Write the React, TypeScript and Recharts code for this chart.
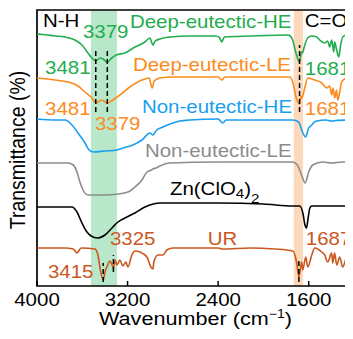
import React from 'react';
import { LineChart, Line, XAxis, YAxis, ReferenceArea, ReferenceLine, ReferenceDot } from 'recharts';

// FTIR spectra, stacked with vertical offsets: [wavenumber (cm-1), transmittance (offset, a.u.)]
const deepEutecticHE: [number, number][] = [
  [4000, 126], [3930, 125.6], [3841, 125], [3753, 124.5], [3665, 123], [3603, 120.5], [3550, 116.5],
  [3515, 114], [3481, 112.5], [3440, 114], [3420, 113.6], [3379, 112], [3340, 114], [3300, 115.5],
  [3224, 116.5], [3135, 119.5], [3047, 122], [3003, 124], [2985, 121.5], [2976, 120.5], [2955, 122.5],
  [2915, 123.5], [2826, 124.5], [2650, 125], [2420, 125], [2390, 124.3], [2368, 122], [2345, 124.5],
  [2120, 125], [1780, 125.5], [1745, 123.5], [1715, 117], [1681, 112], [1665, 117], [1655, 116.5],
  [1640, 119.5], [1609, 124], [1573, 125], [1529, 124.5], [1503, 123], [1459, 121.5], [1432, 122.5],
  [1415, 119.5], [1397, 123], [1379, 117], [1371, 122], [1353, 118], [1335, 114.5], [1318, 120.5],
  [1300, 124.5], [1238, 126], [1200, 126],
];

const deepEutecticLE: [number, number][] = [
  [4000, 104], [3841, 103], [3726, 102], [3638, 100], [3576, 97], [3515, 94], [3481, 91.5], [3430, 93],
  [3379, 91.5], [3330, 93], [3268, 95.5], [3180, 99.5], [3073, 103], [3010, 104], [2990, 100],
  [2982, 99], [2965, 102.5], [2915, 104], [2800, 104.5], [2400, 104.5], [2368, 103], [2340, 104.5],
  [2120, 104.5], [1768, 104.5], [1741, 102], [1715, 95], [1681, 91], [1668, 95], [1660, 94],
  [1635, 99], [1609, 104], [1547, 103], [1485, 101.5], [1441, 99], [1415, 100], [1397, 95.5],
  [1385, 99], [1370, 94], [1355, 98], [1344, 93], [1326, 97], [1309, 102], [1265, 104], [1200, 104.5],
];

const nonEutecticHE: [number, number][] = [
  [4000, 83.5], [3841, 83], [3753, 83], [3691, 80.5], [3638, 76.5], [3576, 71.5], [3540, 68],
  [3500, 67], [3400, 67.5], [3294, 68], [3240, 69], [3153, 70.5], [3073, 73], [3003, 76.5],
  [2976, 75.5], [2950, 77.5], [2888, 79.5], [2800, 81.5], [2738, 82.5], [2650, 83], [2400, 83.5],
  [2359, 81.5], [2330, 83], [2120, 83], [1741, 83], [1690, 82], [1655, 77], [1628, 74.5], [1600, 79],
  [1573, 80.5], [1560, 81.5], [1529, 82.5], [1450, 83], [1400, 82.5], [1350, 82.8], [1200, 83],
];

const nonEutecticLE: [number, number][] = [
  [4000, 61.5], [3726, 61.5], [3680, 60.5], [3647, 57], [3621, 52], [3594, 48], [3550, 45.5],
  [3400, 45.5], [3285, 46], [3197, 47], [3135, 49.5], [3073, 53], [3029, 57], [2990, 58],
  [2976, 58.5], [2950, 59], [2915, 60], [2826, 61.5], [2400, 62], [1741, 62], [1700, 60.5],
  [1660, 55], [1632, 51.5], [1600, 57], [1565, 60.5], [1476, 62], [1400, 61.5], [1300, 62], [1200, 62],
];

const znClO4: [number, number][] = [
  [4000, 39.5], [3691, 39.5], [3647, 37], [3603, 31.5], [3559, 27], [3506, 24.5], [3462, 24],
  [3400, 25.5], [3338, 29], [3285, 32], [3224, 34], [3135, 36.5], [3047, 39.5], [3003, 40.5],
  [2915, 41.5], [2400, 41.5], [2000, 41], [1741, 40], [1680, 40], [1650, 36], [1635, 31], [1620, 29],
  [1605, 34], [1590, 39], [1573, 40], [1200, 40],
];

const urea: [number, number][] = [
  [4000, 19], [3753, 19], [3680, 18.5], [3647, 16.5], [3610, 19], [3488, 18.5], [3462, 15.5],
  [3440, 8], [3415, 3], [3395, 8], [3382, 9.5], [3356, 12.5], [3340, 11], [3325, 9], [3310, 13],
  [3294, 10.5], [3268, 13], [3241, 10], [3215, 12], [3197, 9.5], [3162, 15.5], [3135, 17.5],
  [3091, 17], [3029, 14.5], [2994, 9.5], [2976, 8.5], [2968, 12], [2932, 15.5], [2888, 15.5],
  [2853, 18], [2800, 19], [2400, 19], [2360, 18.5], [2120, 19], [1900, 18.5], [1741, 17.5],
  [1706, 11.5], [1687, 4.5], [1662, 12], [1653, 8], [1626, 14.5], [1609, 9.5], [1573, 15.5],
  [1547, 19], [1485, 17], [1459, 15.5], [1432, 12], [1397, 16.5], [1388, 11.5], [1371, 16.5],
  [1353, 10.5], [1326, 14.5], [1300, 9.5], [1265, 14.5], [1238, 17], [1212, 19], [1200, 19],
];

// Assigned peak positions (cm-1)
const nhPeaksEutectic = [3481, 3379];
const coPeakEutectic = 1681;
const nhPeaksUrea = [3415, 3325];
const coPeakUrea = 1687;

// Highlighted bands (cm-1)
const nhBand = [3294, 3524];
const coBand = [1650, 1732];

const wavenumberTicks = [4000, 3200, 2400, 1600];
const xDomain = [1200, 4000];
const yDomain = [0, 138];

const GREEN = '#22ad4e';
const ORANGE = '#fb8b1d';
const BLUE = '#1a9ff0';
const GRAY = '#8c8c8c';
const BLACK = '#000000';
const BROWN = '#c9581f';

const FONT = "'Liberation Sans', Arial, Helvetica, sans-serif";
const SX = 1.17;
const FS = 17.5;

const toPoints = (arr: [number, number][]) => arr.map(([wn, t]) => ({ wn, t }));

const series = [
  { name: 'Deep-eutectic-HE', data: deepEutecticHE, color: GREEN },
  { name: 'Deep-eutectic-LE', data: deepEutecticLE, color: ORANGE },
  { name: 'Non-eutectic-HE', data: nonEutecticHE, color: BLUE },
  { name: 'Non-eutectic-LE', data: nonEutecticLE, color: GRAY },
  { name: 'Zn(ClO4)2', data: znClO4, color: BLACK },
  { name: 'UR', data: urea, color: BROWN },
];

function StretchText(props: { x: number; y: number; fill?: string; size?: number; anchor?: string; children: React.ReactNode }) {
  const { x, y, fill = BLACK, size = FS, anchor = 'start', children } = props;
  return (
    <text
      transform={`translate(${x},${y}) scale(${SX},1)`}
      x={0}
      y={0}
      fill={fill}
      fontSize={size}
      fontFamily={FONT}
      textAnchor={anchor as any}
    >
      {children}
    </text>
  );
}

// Text annotations placed in data coordinates (wavenumber, offset transmittance)
const annotations: { text: React.ReactNode; wn: number; t: number; color: string }[] = [
  { text: 'N-H', wn: 3947, t: 129.5, color: BLACK },
  { text: String(nhPeaksEutectic[1]), wn: 3594, t: 124, color: GREEN },
  { text: 'Deep-eutectic-HE', wn: 3179, t: 129, color: GREEN },
  { text: 'C=O', wn: 1635, t: 129.5, color: BLACK },
  { text: String(nhPeaksEutectic[0]), wn: 3929, t: 106, color: GREEN },
  { text: 'Deep-eutectic-LE', wn: 3153, t: 107.5, color: ORANGE },
  { text: String(coPeakEutectic), wn: 1635, t: 105.5, color: GREEN },
  { text: String(nhPeaksEutectic[0]), wn: 3929, t: 85.5, color: ORANGE },
  { text: 'Non-eutectic-HE', wn: 3073, t: 86.5, color: BLUE },
  { text: String(coPeakEutectic), wn: 1635, t: 85.5, color: ORANGE },
  { text: String(nhPeaksEutectic[1]), wn: 3488, t: 78, color: ORANGE },
  { text: 'Non-eutectic-LE', wn: 3047, t: 64.5, color: GRAY },
  {
    text: (
      <>
        Zn(ClO
        <tspan fontSize={13} dy={3}>4</tspan>
        <tspan dy={-3}>)</tspan>
        <tspan fontSize={13} dy={8}>2</tspan>
      </>
    ),
    wn: 2826,
    t: 45.5,
    color: BLACK,
  },
  { text: String(nhPeaksUrea[1]), wn: 3356, t: 20.5, color: BROWN },
  { text: 'UR', wn: 2491, t: 20.5, color: BROWN },
  { text: String(coPeakUrea), wn: 1626, t: 20.5, color: BROWN },
  { text: String(nhPeaksUrea[0]), wn: 3903, t: 4, color: BROWN },
];

// Dashed markers at the assigned peaks: [wavenumber, from, to]
const peakMarkers: [number, number, number][] = [
  [nhPeaksEutectic[0], 87, 119],
  [nhPeaksEutectic[1], 87, 119],
  [coPeakEutectic, 87, 120.5],
  [nhPeaksUrea[0], 2, 11.5],
  [nhPeaksUrea[1], 7, 15.5],
  [coPeakUrea, 2, 13],
];

const BottomTick = (props: any) => {
  const { x, y, payload } = props;
  return (
    <g>
      <line x1={x} x2={x} y1={y} y2={y - 5} stroke={BLACK} strokeWidth={1.5} />
      <StretchText x={x} y={y + 19.5} anchor="middle">
        {payload.value}
      </StretchText>
    </g>
  );
};

const XTitle = (props: any) => {
  const vb = props.viewBox || { x: 37, y: 286, width: 317, height: 53 };
  const cx = vb.x + vb.width / 2;
  return (
    <text
      transform={`translate(${cx},${vb.y + 39}) scale(${SX},1)`}
      textAnchor="middle"
      fontSize={18.5}
      fontFamily={FONT}
      fill={BLACK}
    >
      Wavenumber (cm
      <tspan fontSize={12} dy={-7}>−1</tspan>
      <tspan dy={7}>)</tspan>
    </text>
  );
};

export default function App() {
  return (
    <div style={{ position: 'relative', width: 353, height: 339, margin: -8, overflow: 'hidden', background: '#fff' }}>
      <div style={{ position: 'absolute', left: 0, top: 0 }}>
        <LineChart width={356} height={339} margin={{ top: 10, right: 2, bottom: 0, left: 37 }}>
          <XAxis
            type="number"
            dataKey="wn"
            domain={xDomain}
            reversed
            ticks={wavenumberTicks}
            allowDataOverflow
            height={53}
            tickSize={0}
            tickMargin={0}
            tick={<BottomTick />}
            axisLine={false}
            tickLine={false}
            label={{ content: (p: any) => <XTitle {...p} /> }}
          />
          <YAxis type="number" domain={yDomain} hide allowDataOverflow />
          <ReferenceArea x1={nhBand[0]} x2={nhBand[1]} y1={yDomain[0]} y2={yDomain[1]} fill="#b9e7c9" fillOpacity={1} stroke="none" />
          <ReferenceArea x1={coBand[0]} x2={coBand[1]} y1={yDomain[0]} y2={yDomain[1]} fill="#fcd9bb" fillOpacity={1} stroke="none" />
          {series.map((s) => (
            <Line
              key={s.name}
              data={toPoints(s.data)}
              dataKey="t"
              type="monotone"
              stroke={s.color}
              strokeWidth={1.6}
              dot={false}
              isAnimationActive={false}
            />
          ))}
          {peakMarkers.map(([wn, a, b], i) => (
            <ReferenceLine
              key={`pk-${i}`}
              segment={[{ x: wn, y: a }, { x: wn, y: b }]}
              stroke={BLACK}
              strokeWidth={1.5}
              strokeDasharray="5 3"
            />
          ))}
          <ReferenceArea
            x1={xDomain[0]}
            x2={xDomain[1]}
            y1={yDomain[0]}
            y2={yDomain[1]}
            fill="none"
            stroke={BLACK}
            strokeWidth={1.7}
          />
          {annotations.map((a, i) => (
            <ReferenceDot
              key={`ann-${i}`}
              x={a.wn}
              y={a.t}
              r={0}
              ifOverflow="visible"
              shape={(p: any) => (
                <StretchText x={p.cx} y={p.cy} fill={a.color}>
                  {a.text}
                </StretchText>
              )}
            />
          ))}
        </LineChart>
      </div>
      <svg width={353} height={339} style={{ position: 'absolute', left: 0, top: 0, pointerEvents: 'none' }}>
        <text
          transform="translate(25,150) rotate(-90) scale(1,1.1)"
          textAnchor="middle"
          fontSize={19.5}
          fontFamily={FONT}
          fill={BLACK}
        >
          Transmittance (%)
        </text>
        <text x={-5.7} y={8.5} fontSize={24} fontWeight="bold" fontFamily={FONT} fill={BLACK}>
          b
        </text>
      </svg>
    </div>
  );
}
